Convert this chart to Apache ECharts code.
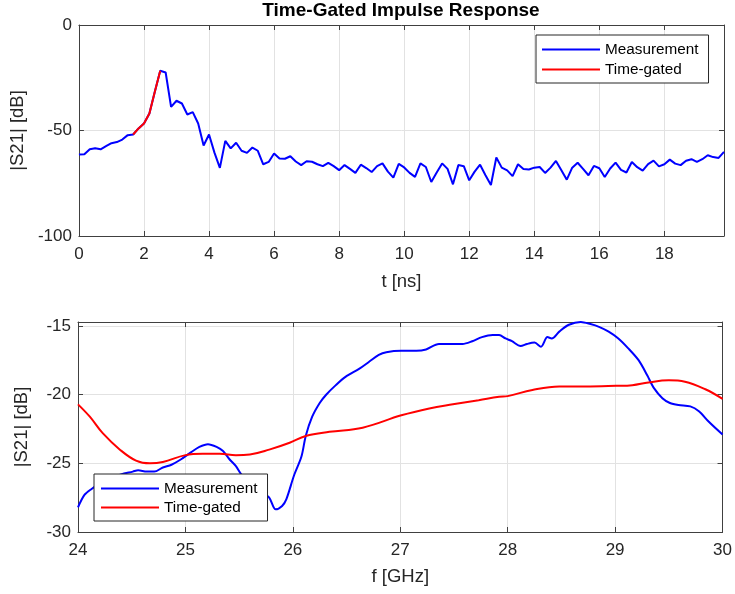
<!DOCTYPE html>
<html><head><meta charset="utf-8">
<script src="https://cdn.jsdelivr.net/npm/echarts@6/dist/echarts.min.js"></script>
<style>html,body{margin:0;padding:0;background:#fff}#c{width:735px;height:594px}</style>
</head><body><div id="c"></div>
<script>
// ---- Data ----
const tStepNs = 1 / 6;           // time sample spacing [ns]
const impulseMeasurement = [
  -61.4,-61.3,-58.9,-58.4,-58.9,-57.4,-56.0,-55.5,-54.3,-52.2,
  -51.9,-49.0,-46.7,-41.9,-31.6,-21.7,-22.5,-38.8,-35.9,-37.2,
  -42.4,-41.3,-46.7,-57.1,-51.9,-60.5,-67.7,-54.9,-58.5,-55.8,
  -59.6,-60.6,-58.1,-59.6,-66.0,-64.9,-60.9,-63.3,-63.4,-62.2,
  -64.7,-66.4,-64.6,-64.8,-66.0,-66.9,-65.3,-66.9,-68.8,-66.4,
  -68.2,-70.1,-66.2,-67.8,-69.7,-66.9,-65.6,-69.5,-72.3,-65.8,
  -67.5,-70.1,-72.0,-65.6,-67.3,-74.4,-69.9,-65.6,-68.2,-75.5,
  -66.4,-66.9,-73.6,-69.5,-66.2,-71.2,-75.8,-62.8,-67.6,-68.9,
  -71.6,-66.0,-68.3,-68.5,-67.6,-67.3,-70.1,-67.6,-64.4,-68.8,
  -73.3,-67.6,-65.3,-68.2,-71.2,-66.8,-67.9,-72.0,-68.0,-65.2,
  -68.7,-69.9,-64.9,-67.4,-69.0,-65.9,-64.3,-67.0,-66.0,-63.8,
  -65.7,-66.4,-64.3,-63.6,-64.9,-63.6,-61.7,-62.6,-63.0,-60.1
];
const gateFirstIndex = 10;
const impulseGated = [-51.9,-49.0,-46.7,-41.9,-31.6,-21.7];

const freqMeasurement = [
  24.00,24.06,24.12,24.20,24.30,24.40,24.51,24.56,24.64,24.71,
  24.79,24.87,24.96,25.05,25.13,25.21,25.29,25.35,25.41,25.47,
  25.52,25.60,25.70,25.78,25.84,25.90,25.94,26.01,26.08,26.12,
  26.18,26.25,26.31,26.40,26.49,26.62,26.71,26.80,26.87,27.01,
  27.15,27.24,27.36,27.49,27.58,27.67,27.76,27.86,27.92,27.98,
  28.04,28.12,28.18,28.25,28.31,28.37,28.41,28.48,28.57,28.68,
  28.77,28.85,28.94,29.03,29.12,29.22,29.30,29.36,29.44,29.51,
  29.59,29.70,29.78,29.87,30.00
];
const s21Measurement = [
  -28.2,-27.3,-26.9,-26.5,-26.1,-25.8,-25.6,-25.5,-25.6,-25.6,
  -25.3,-25.1,-24.7,-24.2,-23.8,-23.6,-23.8,-24.1,-24.7,-25.2,
  -25.8,-26.4,-27.0,-27.5,-28.35,-28.1,-27.6,-25.9,-24.5,-23.0,
  -21.6,-20.6,-20.0,-19.3,-18.7,-18.1,-17.6,-17.1,-16.9,-16.8,
  -16.8,-16.7,-16.3,-16.3,-16.3,-16.1,-15.8,-15.65,-15.65,-15.9,
  -16.1,-16.45,-16.3,-16.2,-16.5,-15.8,-15.9,-15.4,-14.9,-14.7,
  -14.85,-15.05,-15.4,-15.9,-16.6,-17.5,-18.6,-19.5,-20.25,-20.6,
  -20.75,-20.85,-21.2,-21.95,-22.9
];
const freqGated = [
  24.00,24.11,24.23,24.39,24.54,24.67,24.79,25.00,25.16,25.32,
  25.47,25.60,25.78,25.97,26.12,26.34,26.65,27.01,27.27,27.49,
  27.73,27.92,28.00,28.23,28.48,28.72,29.01,29.16,29.31,29.50,
  29.65,29.84,30.00
];
const s21Gated = [
  -20.7,-21.6,-22.8,-24.0,-24.8,-25.0,-24.9,-24.4,-24.3,-24.3,
  -24.4,-24.35,-24.0,-23.5,-23.0,-22.7,-22.4,-21.5,-21.0,-20.7,
  -20.4,-20.15,-20.1,-19.65,-19.4,-19.4,-19.35,-19.3,-19.1,-18.95,
  -19.05,-19.6,-20.3
];
const tTickLabels = [0,2,4,6,8,10,12,14,16,18];
const impulseYTicks = [-100,-50,0];
const fTickLabels = [24,25,26,27,28,29,30];
const s21YTicks = [-30,-25,-20,-15];
const seriesNames = ['Measurement','Time-gated'];
const titleText = 'Time-Gated Impulse Response';

// ---- Styling ----
const FONT = '"Liberation Sans", Arial, Helvetica, sans-serif';
const AXC = '#404040';
const TXT = '#262626';
const GRIDC = '#e2e2e2';
const near = (v, arr) => arr.some(a => Math.abs(a - v) < 1e-6);

function mainX(grid, min, max, interval, ticks, name, gap) {
  return {
    type: 'value', gridIndex: grid, position: 'bottom', min, max, interval,
    axisLine: { show: true, onZero: false, lineStyle: { color: AXC, width: 1 } },
    axisTick: { show: true, inside: true, length: 5, lineStyle: { color: AXC } },
    axisLabel: { show: true, margin: 10, color: TXT, fontFamily: FONT, fontSize: 17,
      formatter: v => near(v, ticks) ? String(Math.round(v)) : '' },
    splitLine: { show: true, lineStyle: { color: GRIDC, width: 1 } },
    name, nameLocation: 'middle', nameGap: gap,
    nameTextStyle: { color: TXT, fontFamily: FONT, fontSize: 18.5 }
  };
}
function mirrorX(grid, min, max, interval) {
  return {
    type: 'value', gridIndex: grid, position: 'top', min, max, interval,
    axisLine: { show: true, onZero: false, lineStyle: { color: AXC, width: 1 } },
    axisTick: { show: true, inside: true, length: 5, lineStyle: { color: AXC } },
    axisLabel: { show: false }, splitLine: { show: false }
  };
}
function mainY(grid, min, max, interval, ticks, name, gap) {
  return {
    type: 'value', gridIndex: grid, position: 'left', min, max, interval,
    axisLine: { show: true, onZero: false, lineStyle: { color: AXC, width: 1 } },
    axisTick: { show: true, inside: true, length: 5, lineStyle: { color: AXC } },
    axisLabel: { show: true, margin: 7, color: TXT, fontFamily: FONT, fontSize: 17,
      formatter: v => near(v, ticks) ? String(Math.round(v)) : '' },
    splitLine: { show: true, lineStyle: { color: GRIDC, width: 1 } },
    name, nameLocation: 'middle', nameGap: gap,
    nameTextStyle: { color: TXT, fontFamily: FONT, fontSize: 18.5 }
  };
}
function mirrorY(grid, min, max, interval) {
  return {
    type: 'value', gridIndex: grid, position: 'right', min, max, interval,
    axisLine: { show: true, onZero: false, lineStyle: { color: AXC, width: 1 } },
    axisTick: { show: true, inside: true, length: 5, lineStyle: { color: AXC } },
    axisLabel: { show: false }, splitLine: { show: false }
  };
}

const tMax = (impulseMeasurement.length - 1) * tStepNs;
const legendBase = {
  orient: 'vertical', icon: 'rect', itemWidth: 58, itemHeight: 2,
  backgroundColor: '#fff', borderColor: '#262626', borderWidth: 1, borderRadius: 0,
  textStyle: { color: '#000', fontFamily: FONT, fontSize: 15.3 },
  data: seriesNames, selectedMode: false
};

const chart = echarts.init(document.getElementById('c'), null, { renderer: 'canvas' });
chart.setOption({
  backgroundColor: '#fff',
  animation: false,
  graphic: [{
    type: 'text', x: 401, y: 11,
    style: { text: titleText, fill: '#000', font: 'bold 19px ' + FONT, textAlign: 'center', textVerticalAlign: 'middle' }
  }],
  grid: [
    { left: 78, top: 25, width: 646, height: 211 },
    { left: 78, top: 322, width: 646, height: 210 }
  ],
  xAxis: [
    mainX(0, 0, tMax, 2, tTickLabels, 't [ns]', 36),
    mirrorX(0, 0, tMax, 2),
    mainX(1, 24, 30, 1, fTickLabels, 'f [GHz]', 35),
    mirrorX(1, 24, 30, 1)
  ],
  yAxis: [
    mainY(0, -100, 0, 50, impulseYTicks, '|S21| [dB]', 47),
    mirrorY(0, -100, 0, 50),
    mainY(1, -30, -14.7, 5, s21YTicks, '|S21| [dB]', 47),
    mirrorY(1, -30, -14.7, 5)
  ],
  legend: [
    Object.assign({}, legendBase, { left: 536, top: 35, padding: [7, 10, 6, 6], itemGap: 5 }),
    Object.assign({}, legendBase, { left: 94, top: 474, padding: [7, 10, 6, 7], itemGap: 4 })
  ],
  series: [
    { name: seriesNames[0], type: 'line', xAxisIndex: 0, yAxisIndex: 0, symbol: 'none',
      lineStyle: { color: '#0000ff', width: 2 }, itemStyle: { color: '#0000ff' },
      data: impulseMeasurement.map((v, i) => [i * tStepNs, v]) },
    { name: seriesNames[1], type: 'line', xAxisIndex: 0, yAxisIndex: 0, symbol: 'none',
      lineStyle: { color: '#ff0000', width: 2 }, itemStyle: { color: '#ff0000' },
      data: impulseGated.map((v, i) => [(gateFirstIndex + i) * tStepNs, v]) },
    { name: seriesNames[0], type: 'line', xAxisIndex: 2, yAxisIndex: 2, symbol: 'none', smooth: 0.3,
      lineStyle: { color: '#0000ff', width: 2 }, itemStyle: { color: '#0000ff' },
      data: freqMeasurement.map((f, i) => [f, s21Measurement[i]]) },
    { name: seriesNames[1], type: 'line', xAxisIndex: 2, yAxisIndex: 2, symbol: 'none', smooth: 0.4,
      lineStyle: { color: '#ff0000', width: 2 }, itemStyle: { color: '#ff0000' },
      data: freqGated.map((f, i) => [f, s21Gated[i]]) }
  ]
});
</script></body></html>
